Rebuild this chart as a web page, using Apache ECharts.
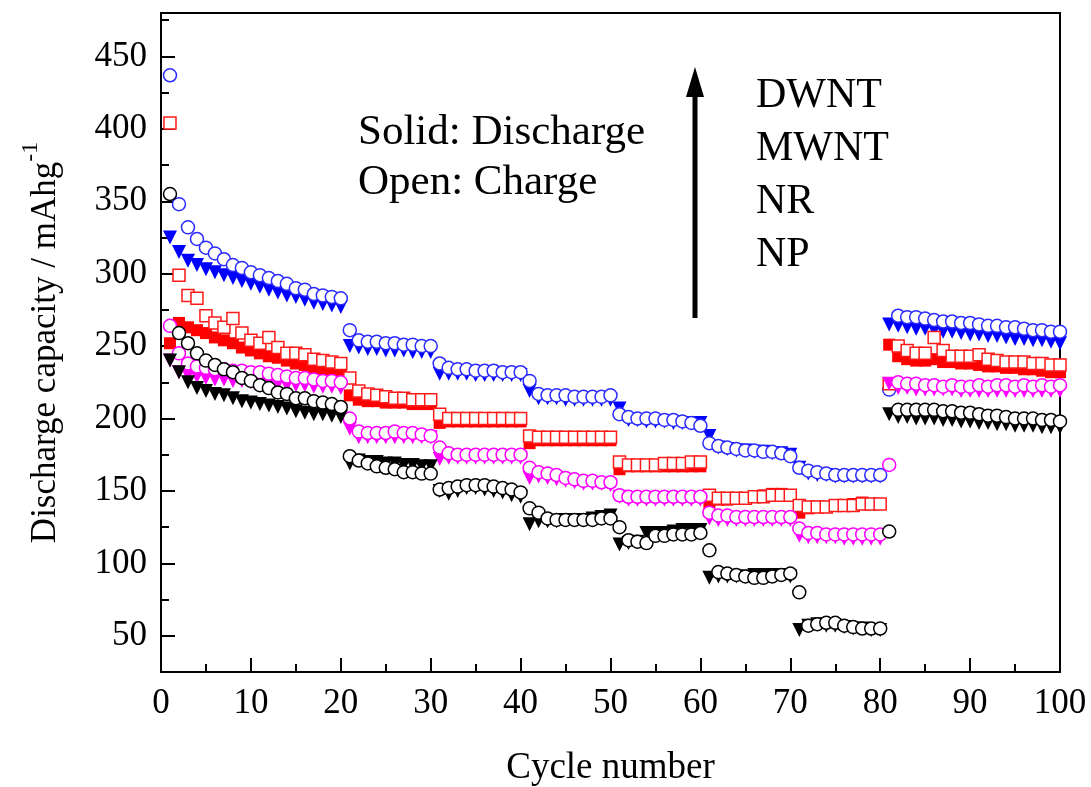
<!DOCTYPE html>
<html>
<head>
<meta charset="utf-8">
<script src="https://cdn.jsdelivr.net/npm/echarts@6/dist/echarts.min.js"></script>
<style>
  html, body { margin: 0; padding: 0; background: #fff; }
  #main { width: 1091px; height: 787px; }
</style>
</head>
<body>
<div id="main"></div>
<script>
// cycle 1..100, values in mAh/g
var dwntCharge = [
  437, 348, 332, 324, 318, 314, 310, 306, 304, 301, 299, 297, 295, 293, 290, 289, 286, 285, 284, 283,
  261, 254, 253, 253, 252, 252, 251, 251, 250, 250,
  238, 235, 234, 234, 233, 233, 233, 232, 232, 232,
  226, 217, 216, 216, 216, 215, 215, 215, 215, 216,
  203, 201, 200, 200, 200, 199, 199, 198, 197, 195,
  183, 181, 180, 179, 178, 178, 177, 177, 176, 174,
  166, 164, 163, 162, 161, 161, 161, 161, 161, 161,
  220, 271, 270, 270, 269, 268, 267, 267, 266, 266, 265, 264, 264, 263, 263, 262, 261, 261, 260, 260
];
var dwntDischarge = [
  325, 315, 309, 306, 303, 301, 299, 297, 295, 293, 291, 289, 287, 285, 284, 282, 280, 279, 278, 277,
  250, 249, 248, 248, 247, 247, 247, 246, 246, 246,
  231, 231, 231, 231, 230, 230, 230, 230, 230, 230,
  219, 214, 214, 214, 213, 213, 213, 213, 213, 213,
  207, 199, 199, 198, 198, 198, 197, 197, 197, 197,
  188, 180, 179, 178, 178, 177, 177, 176, 176, 175,
  166, 162, 161, 161, 160, 160, 160, 160, 160, 160,
  265, 264, 263, 262, 262, 261, 260, 260, 259, 258, 258, 257, 257, 256, 255, 255, 254, 254, 253, 252
];
var mwntCharge = [
  404, 299, 285, 283, 271, 266, 263, 269, 259, 254, 252, 256, 249, 245, 245, 244, 241, 240, 239, 238,
  228, 219, 217, 216, 215, 214, 214, 213, 213, 213,
  203, 200, 200, 200, 200, 200, 200, 200, 200, 200,
  188, 187, 187, 187, 187, 187, 187, 187, 187, 187,
  170, 168, 168, 168, 168, 169, 169, 169, 170, 170,
  147, 145, 145, 145, 145, 146, 146, 147, 147, 147,
  140, 139, 139, 139, 140, 140, 140, 141, 141, 141,
  224, 250, 247, 245, 245, 256, 247, 243, 243, 243, 244, 241, 240, 239, 239, 239, 238, 238, 237, 237
];
var mwntDischarge = [
  252, 266, 263, 261, 259, 256, 254, 252, 249, 247, 245, 243, 242, 240, 238, 237, 235, 234, 233, 232,
  216, 213, 212, 212, 211, 211, 211, 210, 210, 210,
  197, 198, 198, 198, 198, 198, 198, 198, 198, 198,
  183, 185, 185, 185, 185, 185, 185, 185, 185, 185,
  165, 167, 167, 167, 167, 167, 167, 167, 167, 167,
  141, 144, 144, 145, 145, 146, 147, 148, 148, 147,
  135, 138, 139, 139, 140, 140, 141, 142, 141, 141,
  251, 243, 241, 240, 240, 241, 239, 239, 238, 238, 237, 236, 236, 235, 235, 234, 234, 233, 232, 232
];
var nrCharge = [
  264, 245, 238, 236, 235, 234, 234, 233, 233, 232, 232, 231, 230, 229, 228, 228, 227, 226, 226, 225,
  200, 191, 190, 190, 190, 191, 190, 190, 189, 188,
  180, 176, 175, 175, 175, 175, 175, 175, 175, 175,
  166, 163, 162, 161, 159, 158, 157, 157, 156, 156,
  147, 146, 146, 146, 146, 146, 146, 146, 146, 146,
  135, 133, 133, 132, 132, 132, 132, 132, 132, 132,
  124, 121, 121, 120, 120, 120, 120, 120, 120, 120,
  168, 225, 224, 224, 223, 223, 222, 223, 222, 222, 223, 222, 223, 223, 222, 223, 222, 223, 222, 223
];
var nrDischarge = [
  240, 232, 230, 229, 228, 227, 227, 226, 226, 225, 225, 224, 224, 223, 223, 223, 222, 222, 222, 221,
  193, 187, 187, 187, 187, 187, 187, 187, 187, 187,
  172, 173, 173, 173, 173, 173, 173, 173, 173, 173,
  159, 160, 159, 158, 157, 156, 155, 155, 155, 154,
  146, 144, 144, 144, 144, 144, 144, 144, 144, 144,
  131, 130, 130, 130, 130, 130, 130, 130, 130, 130,
  119, 118, 118, 118, 118, 117, 117, 117, 117, 117,
  224, 221, 221, 220, 220, 220, 220, 220, 219, 219, 219, 219, 219, 219, 219, 219, 219, 219, 219, 219
];
var npCharge = [
  355, 259, 252, 245, 240, 237, 234, 232, 228, 226, 223, 221, 218, 217, 214, 214, 212, 211, 210, 208,
  174, 171, 169, 167, 166, 165, 163, 163, 162, 162,
  151, 152, 153, 154, 154, 154, 153, 152, 151, 149,
  138, 135, 131, 130, 130, 130, 130, 130, 131, 131,
  125, 116, 115, 114, 119, 119, 120, 120, 120, 121,
  109, 94, 93, 92, 91, 90, 90, 91, 92, 93,
  80, 57, 58, 59, 59, 57, 56, 55, 55, 55,
  122, 206, 206, 206, 206, 206, 205, 205, 204, 204, 203, 202, 202, 201, 200, 200, 200, 199, 199, 198
];
var npDischarge = [
  240, 232, 225, 221, 219, 217, 216, 214, 212, 211, 210, 209, 208, 207, 205, 204, 203, 203, 202, 201,
  169, 171, 170, 170, 169, 169, 168, 168, 167, 167,
  150, 148, 150, 152, 152, 151, 150, 149, 147, 146,
  127, 129, 129, 129, 130, 130, 130, 131, 132, 133,
  113, 114, 115, 121, 121, 121, 122, 123, 123, 123,
  90, 91, 91, 91, 91, 92, 92, 92, 92, 91,
  54, 57, 58, 57, 57, 56, 55, 55, 54, 54,
  203, 201, 201, 200, 200, 200, 199, 199, 198, 198, 197, 197, 196, 196, 195, 195, 195, 194, 194, 194
];

var yMajor = [50, 100, 150, 200, 250, 300, 350, 400, 450];
var yMinor = [75, 125, 175, 225, 275, 325, 375, 425, 475];
var materials = ['DWNT', 'MWNT', 'NR', 'NP'];

var FONT = '"Liberation Serif", "Times New Roman", serif';

function toPairs(arr) {
  return arr.map(function (v, i) { return [i + 1, v]; });
}

// filled marks = discharge
function solid(name, data, color, symbol) {
  return {
    name: name + ' discharge',
    type: 'scatter',
    data: toPairs(data),
    symbol: symbol,
    symbolSize: symbol === 'rect' ? 12 : 14,
    symbolRotate: symbol === 'triangle' ? 180 : 0,
    itemStyle: { color: color, opacity: 1 },
    silent: true
  };
}

// open marks = charge
function open(name, data, color, symbol) {
  return {
    name: name + ' charge',
    type: 'scatter',
    data: toPairs(data),
    symbol: symbol,
    symbolSize: symbol === 'rect' ? 12 : 13,
    itemStyle: { color: '#fff', borderColor: color, borderWidth: 1.5, opacity: 1 },
    silent: true
  };
}

var chart = echarts.init(document.getElementById('main'), null, { renderer: 'canvas' });

var option = {
  animation: false,
  backgroundColor: '#fff',
  grid: {
    left: 161, right: 31, top: 13, bottom: 115,
    outerBoundsMode: 'none',
    containLabel: false,
    show: true, borderColor: '#000', borderWidth: 2
  },
  xAxis: {
    type: 'value',
    min: 0, max: 100, interval: 10,
    name: 'Cycle number',
    nameLocation: 'middle',
    nameGap: 78,
    nameTextStyle: { fontFamily: FONT, fontSize: 37, color: '#000' },
    axisLine: { show: false },
    axisTick: { show: true, inside: true, length: 14, lineStyle: { color: '#000', width: 2 } },
    minorTick: { show: true, splitNumber: 2, length: 8, lineStyle: { color: '#000', width: 2 } },
    splitLine: { show: false },
    axisLabel: { fontFamily: FONT, fontSize: 35, color: '#000', margin: 14 }
  },
  yAxis: [{
    type: 'value',
    min: 25, max: 480,
    name: '{b|Discharge capacity / mAhg}{s|-1}',
    nameLocation: 'middle',
    nameRotate: 90,
    nameGap: 98,
    nameTextStyle: {
      rich: {
        b: { fontFamily: FONT, fontSize: 35, color: '#000', lineHeight: 44, verticalAlign: 'bottom' },
        s: { fontFamily: FONT, fontSize: 24, color: '#000', lineHeight: 44, verticalAlign: 'top', padding: [0, 0, 12, 0] }
      }
    },
    axisLine: { show: false },
    axisTick: { show: true, inside: true, length: 14, customValues: yMajor, lineStyle: { color: '#000', width: 2 } },
    splitLine: { show: false },
    axisLabel: { fontFamily: FONT, fontSize: 35, color: '#000', margin: 14, customValues: yMajor }
  }, {
    type: 'value',
    min: 25, max: 480,
    position: 'left',
    axisLine: { show: false },
    axisTick: { show: true, inside: true, length: 8, customValues: yMinor, lineStyle: { color: '#000', width: 2 } },
    splitLine: { show: false },
    axisLabel: { show: false }
  }],
  series: [
    solid('DWNT', dwntDischarge, '#0000ff', 'triangle'),
    open('DWNT', dwntCharge, '#2b2bff', 'circle'),
    solid('MWNT', mwntDischarge, '#ff0000', 'rect'),
    open('MWNT', mwntCharge, '#ff1a1a', 'rect'),
    solid('NR', nrDischarge, '#ff00ff', 'triangle'),
    open('NR', nrCharge, '#ff00ff', 'circle'),
    solid('NP', npDischarge, '#000000', 'triangle'),
    open('NP', npCharge, '#000000', 'circle')
  ],
  graphic: [
    {
      type: 'text', left: 358, top: 108,
      style: {
        text: 'Solid: Discharge\nOpen: Charge',
        fontFamily: FONT, fontSize: 43, lineHeight: 50, fill: '#000'
      }
    },
    {
      type: 'text', left: 756, top: 69,
      style: {
        text: materials.join('\n'),
        fontFamily: FONT, fontSize: 42, lineHeight: 53, fill: '#000'
      }
    },
    {
      type: 'line',
      shape: { x1: 695, y1: 318, x2: 695, y2: 92 },
      style: { stroke: '#000', lineWidth: 5 }
    },
    {
      type: 'polygon',
      shape: { points: [[695, 67], [686, 97], [704, 97]] },
      style: { fill: '#000' }
    }
  ]
};

chart.setOption(option);
</script>
</body>
</html>
